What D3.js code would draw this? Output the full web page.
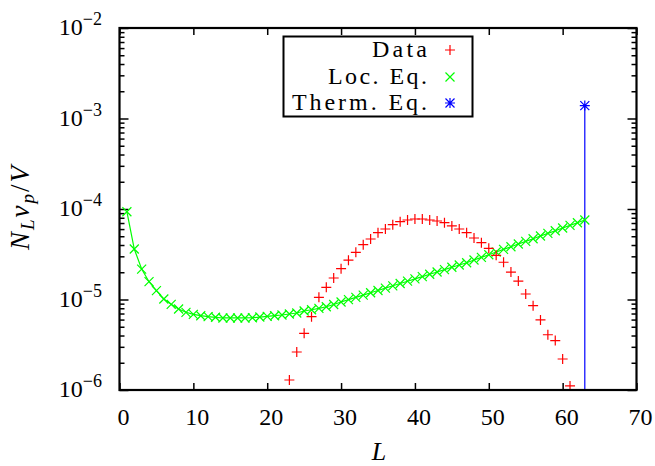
<!DOCTYPE html>
<html>
<head>
<meta charset="utf-8">
<script src="https://cdn.jsdelivr.net/npm/d3@7"></script>
<style>
  body { margin: 0; background: #fff; }
  text { font-family: "Liberation Serif", "DejaVu Serif", serif; fill: #000; }
</style>
</head>
<body>
<svg id="chart" width="655" height="466"></svg>
<script>
// Data (red +)
const dataL = [23, 24, 25, 26, 27, 28, 29, 30, 31, 32, 33, 34, 35, 36, 37, 38, 39, 40, 41, 42,
               43, 44, 45, 46, 47, 48, 49, 50, 51, 52, 53, 54, 55, 56, 57, 58, 59, 60, 61];
const dataN = [1.29e-6, 2.63e-6, 4.23e-6, 6.46e-6, 1.057e-5, 1.364e-5, 1.728e-5, 2.19e-5, 2.72e-5, 3.32e-5,
               4.03e-5, 4.66e-5, 5.47e-5, 6.01e-5, 6.71e-5, 7.24e-5, 7.56e-5, 7.75e-5, 7.75e-5, 7.56e-5,
               7.37e-5, 7.07e-5, 6.5e-5, 6.01e-5, 5.47e-5, 4.78e-5, 4.24e-5, 3.68e-5, 3.08e-5, 2.58e-5,
               2.01e-5, 1.6e-5, 1.15e-5, 8.54e-6, 5.94e-6, 4.08e-6, 3.52e-6, 2.2e-6, 1.11e-6];

// Loc. Eq. (green x, joined)
const locL = [1, 2, 3, 4, 5, 6, 7, 8, 9, 10, 11, 12, 13, 14, 15, 16, 17, 18, 19, 20, 21,
              22, 23, 24, 25, 26, 27, 28, 29, 30, 31, 32, 33, 34, 35, 36, 37, 38, 39, 40, 41, 42,
              43, 44, 45, 46, 47, 48, 49, 50, 51, 52, 53, 54, 55, 56, 57, 58, 59, 60, 61, 62, 63];
const locN = [9.33e-5, 3.61e-5, 2.17e-5, 1.573e-5, 1.251e-5, 1.013e-5, 8.85e-6, 7.85e-6, 7.22e-6, 6.86e-6,
              6.62e-6, 6.46e-6, 6.36e-6, 6.25e-6, 6.25e-6, 6.25e-6, 6.25e-6, 6.29e-6, 6.4e-6, 6.52e-6,
              6.62e-6, 6.74e-6, 6.92e-6, 7.09e-6, 7.46e-6, 7.71e-6, 7.99e-6, 8.32e-6, 8.81e-6, 9.38e-6,
              9.95e-6, 1.055e-5, 1.118e-5, 1.186e-5, 1.257e-5, 1.337e-5, 1.417e-5, 1.502e-5, 1.593e-5, 1.689e-5,
              1.791e-5, 1.899e-5, 2.013e-5, 2.14e-5, 2.269e-5, 2.405e-5, 2.55e-5, 2.732e-5, 2.918e-5, 3.126e-5,
              3.349e-5, 3.577e-5, 3.831e-5, 4.104e-5, 4.385e-5, 4.696e-5, 5.031e-5, 5.374e-5, 5.756e-5, 6.166e-5,
              6.587e-5, 7.055e-5, 7.558e-5];

// Therm. Eq. (blue impulse)
const thermL = [63];
const thermN = [1.39e-3];

const xTicks = [0, 10, 20, 30, 40, 50, 60, 70];
const yDecades = [1e-6, 1e-5, 1e-4, 1e-3, 1e-2];
const yExponents = [-6, -5, -4, -3, -2];
const legendLabels = ["Data", "Loc. Eq.", "Therm. Eq."];
const seriesColors = ["#ff0000", "#00ff00", "#0000ff"];

const svg = d3.select("#chart");
const mLeft = 119.5, mRight = 636.5, mTop = 28, mBottom = 390;

const x = d3.scaleLinear().domain([0, 70]).range([mLeft, mRight]);
const y = d3.scaleLog().domain([1e-6, 1e-2]).range([mBottom, mTop]);

const plus = "M-5,0H5M0,-5V5";
const cross = "M-4.5,-4.5L4.5,4.5M-4.5,4.5L4.5,-4.5";
const star = plus + cross;

// ticks (inward, mirrored)
const minorY = y.ticks().filter(v => !yDecades.some(d => Math.abs(v / d - 1) < 1e-6));

function strip(g) {
  g.select(".domain").remove();
  g.selectAll("line").attr("stroke", "#000").attr("stroke-width", 1.5);
}
svg.append("g").attr("transform", `translate(0,${mBottom})`)
  .call(d3.axisBottom(x).tickValues(xTicks).tickSize(-7).tickFormat("")).call(strip);
svg.append("g").attr("transform", `translate(0,${mTop})`)
  .call(d3.axisTop(x).tickValues(xTicks).tickSize(-7).tickFormat("")).call(strip);
svg.append("g").attr("transform", `translate(${mLeft},0)`)
  .call(d3.axisLeft(y).tickValues(yDecades).tickSize(-9).tickFormat("")).call(strip);
svg.append("g").attr("transform", `translate(${mLeft},0)`)
  .call(d3.axisLeft(y).tickValues(minorY).tickSize(-5).tickFormat("")).call(strip);
svg.append("g").attr("transform", `translate(${mRight},0)`)
  .call(d3.axisRight(y).tickValues(yDecades).tickSize(-9).tickFormat("")).call(strip);
svg.append("g").attr("transform", `translate(${mRight},0)`)
  .call(d3.axisRight(y).tickValues(minorY).tickSize(-5).tickFormat("")).call(strip);

// tick labels
svg.append("g").selectAll("text").data(xTicks).join("text")
  .attr("x", d => x(d) + 4).attr("y", 425)
  .attr("text-anchor", "middle").attr("font-size", 24)
  .text(d => d);

const yl = svg.append("g").selectAll("text").data(yDecades).join("text")
  .attr("x", 102).attr("y", d => y(d) + 7)
  .attr("text-anchor", "end").attr("font-size", 24);
yl.append("tspan").text("10");
yl.append("tspan").attr("dy", -10).attr("font-size", 18)
  .text((d, i) => "\u2212" + Math.abs(yExponents[i]));

// axis titles
const ylab = svg.append("text")
  .attr("transform", "translate(29,207) rotate(-90)")
  .attr("text-anchor", "middle").attr("font-size", 27)
  .attr("letter-spacing", 2);
ylab.append("tspan").attr("font-style", "italic").text("N");
ylab.append("tspan").attr("font-style", "italic").attr("font-size", 19).attr("dy", 5).text("L");
ylab.append("tspan").attr("font-style", "italic").attr("dy", -5).text("v");
ylab.append("tspan").attr("font-style", "italic").attr("font-size", 19).attr("dy", 5).text("p");
ylab.append("tspan").attr("dy", -5).text("/");
ylab.append("tspan").attr("font-style", "italic").text("V");

svg.append("text").attr("x", 379).attr("y", 460)
  .attr("text-anchor", "middle").attr("font-size", 26)
  .attr("font-style", "italic").text("L");

// plot
const plot = svg.append("g");

// blue impulse
plot.selectAll(".imp").data(thermL).join("line")
  .attr("x1", d => x(d)).attr("x2", d => x(d))
  .attr("y1", mBottom).attr("y2", (d, i) => y(thermN[i]))
  .attr("stroke", seriesColors[2]).attr("stroke-width", 1.2);
plot.selectAll(".st").data(thermL).join("path")
  .attr("d", star)
  .attr("transform", (d, i) => `translate(${x(d)},${y(thermN[i])})`)
  .attr("fill", "none").attr("stroke", seriesColors[2]).attr("stroke-width", 1.2);

// green line + crosses
const locPts = locL.map((l, i) => [l, locN[i]]);
plot.append("path").datum(locPts)
  .attr("d", d3.line().x(d => x(d[0])).y(d => y(d[1])))
  .attr("fill", "none").attr("stroke", seriesColors[1]).attr("stroke-width", 1.2);
plot.selectAll(".cx").data(locPts).join("path")
  .attr("d", cross)
  .attr("transform", d => `translate(${x(d[0])},${y(d[1])})`)
  .attr("fill", "none").attr("stroke", seriesColors[1]).attr("stroke-width", 1.2);

// red plus
plot.selectAll(".px").data(dataL.map((l, i) => [l, dataN[i]])).join("path")
  .attr("d", plus)
  .attr("transform", d => `translate(${x(d[0])},${y(d[1])})`)
  .attr("fill", "none").attr("stroke", seriesColors[0]).attr("stroke-width", 1.2);

// border
svg.append("rect")
  .attr("x", mLeft).attr("y", mTop)
  .attr("width", mRight - mLeft).attr("height", mBottom - mTop)
  .attr("fill", "none").attr("stroke", "#000").attr("stroke-width", 2.2);

// legend
const lg = svg.append("g");
lg.append("rect").attr("x", 283.5).attr("y", 36.5).attr("width", 189).attr("height", 80)
  .attr("fill", "#fff").attr("stroke", "#000").attr("stroke-width", 2);
const shapes = [plus, cross, star];
const rowY = [50, 77, 103];
const labelWidths = [55, 99, 135];
legendLabels.forEach((lab, i) => {
  lg.append("text").attr("x", 427).attr("y", rowY[i] + 7)
    .attr("text-anchor", "end").attr("font-size", 24)
    .attr("textLength", labelWidths[i]).attr("lengthAdjust", "spacing")
    .text(lab);
  lg.append("path").attr("d", shapes[i])
    .attr("transform", `translate(450,${rowY[i]})`)
    .attr("fill", "none").attr("stroke", seriesColors[i]).attr("stroke-width", 1.2);
});
</script>
</body>
</html>
